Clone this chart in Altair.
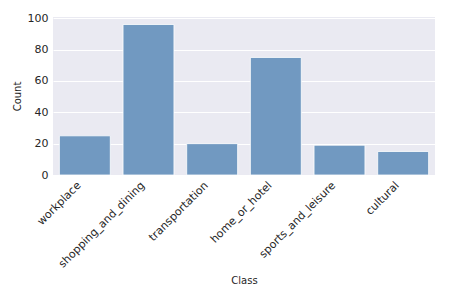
import altair as alt
import pandas as pd

classes = ["workplace", "shopping_and_dining", "transportation", "home_or_hotel", "sports_and_leisure", "cultural"]
counts = [25, 96, 20, 75, 19, 15]

df = pd.DataFrame({"Class": classes, "Count": counts})

chart = alt.Chart(df).mark_bar(color="#7199c1", stroke="white", strokeWidth=0.8).encode(
    x=alt.X("Class:N", sort=classes,
            scale=alt.Scale(paddingInner=0.2, paddingOuter=0.1),
            axis=alt.Axis(labelAngle=-45, labelAlign="right", labelBaseline="bottom",
                          labelFontSize=11, labelColor="#262626", labelPadding=12,
                          labelOffset=-2,
                          title="Class", titleFontSize=10, titleColor="#262626",
                          titleFontWeight="normal", titlePadding=6,
                          ticks=False, domain=False, grid=False)),
    y=alt.Y("Count:Q", scale=alt.Scale(domain=[0, 100.8], nice=False),
            axis=alt.Axis(values=[0, 20, 40, 60, 80, 100], labelFontSize=11,
                          labelColor="#262626", labelPadding=5,
                          title="Count", titleFontSize=10, titleColor="#262626",
                          titleFontWeight="normal", titlePadding=5,
                          ticks=False, domain=False, grid=True,
                          gridColor="white", gridWidth=1)),
).properties(
    width=382, height=158,
    autosize=alt.AutoSizeParams(type="none"),
    padding={"left": 45, "top": 9, "right": 6, "bottom": 114},
).configure(
    font="DejaVu Sans",
    background="white",
).configure_view(
    fill="#eaeaf2", stroke=None
)

chart.save("out.html", embed_options={"renderer": "svg", "actions": False})
